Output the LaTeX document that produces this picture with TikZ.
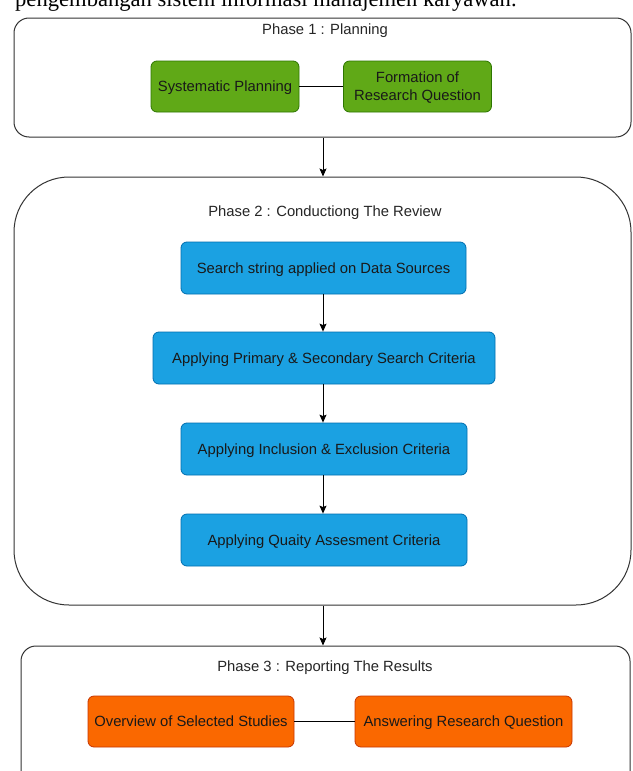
\documentclass[tikz,border=0pt]{standalone}
\usepackage{fontspec}
\setmainfont{Liberation Sans}
\newfontfamily\serifbody{Liberation Serif}
\usetikzlibrary{arrows.meta,positioning}

\definecolor{greenfill}{HTML}{60A917}
\definecolor{greenline}{HTML}{2D7600}
\definecolor{bluefill}{HTML}{1BA1E2}
\definecolor{blueline}{HTML}{006EAF}
\definecolor{orangefill}{HTML}{FA6800}
\definecolor{orangeline}{HTML}{C73500}

\tikzset{
    phasebox/.style={draw=black!80, line width=1pt, rounded corners=15pt, inner sep=0pt},
    phasetitle/.style={font=\fontsize{14.8}{18}\selectfont, text=black!85},
    stepbox/.style={draw, line width=0.8pt, rounded corners=6pt, inner sep=0pt, text depth=0pt,
        font=\fontsize{14.8}{18}\selectfont, text=black!90, align=center},
    planbox/.style={stepbox, fill=greenfill, draw=greenline, minimum width=148pt, minimum height=51pt},
    reviewbox/.style={stepbox, fill=bluefill, draw=blueline, minimum height=52pt},
    reportbox/.style={stepbox, fill=orangefill, draw=orangeline, minimum height=51pt},
    flow/.style={-{Stealth[length=8pt,width=7pt,inset=1.5pt]}, line width=0.9pt},
    link/.style={line width=0.9pt}
}

\begin{document}
\begin{tikzpicture}[x=1pt, y=-1pt]
    \useasboundingbox (0,0) rectangle (632,771);
    \clip (0,0) rectangle (632,771);
    \fill[white] (0,0) rectangle (632,771);

    % caption line cut at the top
    \node[anchor=base west, inner sep=0pt, font=\serifbody\fontsize{22.6}{26}\selectfont]
        (captionline) at (15,6.5) {pengembangan sistem informasi manajemen karyawan.};

    % phase frames
    \node[phasebox, minimum width=617pt, minimum height=119pt] (phaseone) at (322.5,77.5) {};
    \node[phasebox, rounded corners=55pt, minimum width=617pt, minimum height=428pt] (phasetwo) at (322.5,391) {};
    \node[phasebox, minimum width=609pt, minimum height=140pt] (phasethree) at (325.5,716) {};

    \node[phasetitle] (titleone) at (325,30.5) {Phase 1 : Planning};
    \node[phasetitle] (titletwo) at (325,212.5) {Phase 2 : Conductiong The Review};
    \node[phasetitle] (titlethree) at (325,667.5) {Phase 3 : Reporting The Results};

    % phase 1
    \node[planbox] (sysplan) at (225,86.5) {Systematic Planning};
    \node[planbox] (formrq) at (417.5,86.5) {Formation of\\Research Question};
    \draw[link] (sysplan) -- (formrq);

    % phase 2
    \node[reviewbox, minimum width=285pt] (searchstr) at (323.5,268) {Search string applied on Data Sources};
    \node[reviewbox, minimum width=342pt] (primsec) at (324,358) {Applying Primary \& Secondary Search Criteria};
    \node[reviewbox, minimum width=286pt] (inclexcl) at (324,449) {Applying Inclusion \& Exclusion Criteria};
    \node[reviewbox, minimum width=286pt] (quality) at (324,540) {Applying Quaity Assesment Criteria};
    \draw[flow] (searchstr.south -| 323,0) -- (primsec.north -| 323,0);
    \draw[flow] (primsec.south -| 323,0) -- (inclexcl.north -| 323,0);
    \draw[flow] (inclexcl.south -| 323,0) -- (quality.north -| 323,0);

    % phase 3
    \node[reportbox, minimum width=206pt] (overview) at (191,721.5) {Overview of Selected Studies};
    \node[reportbox, minimum width=217pt] (answerrq) at (463.5,721.5) {Answering Research Question};
    \draw[link] (overview) -- (answerrq);

    % between phases
    \draw[flow] (phaseone.south -| 323,0) -- (phasetwo.north -| 323,0);
    \draw[flow] (phasetwo.south -| 323,0) -- (phasethree.north -| 323,0);
\end{tikzpicture}
\end{document}
